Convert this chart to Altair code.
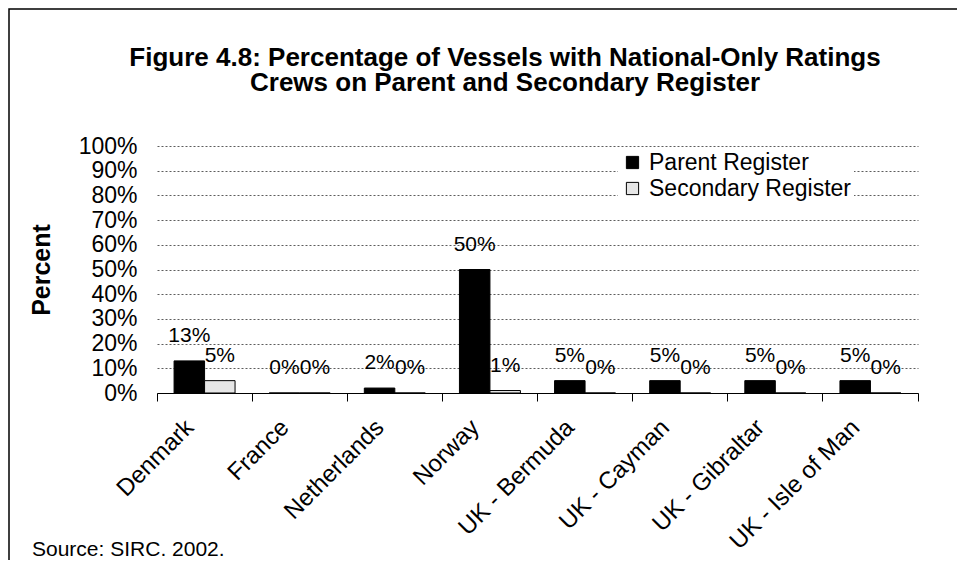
import altair as alt
import pandas as pd

categories = ["Denmark", "France", "Netherlands", "Norway", "UK - Bermuda",
              "UK - Cayman", "UK - Gibraltar", "UK - Isle of Man"]
registers = ["Parent Register", "Secondary Register"]
parent_pct = [13, 0, 2, 50, 5, 5, 5, 5]
secondary_pct = [5, 0, 0, 1, 0, 0, 0, 0]
title_lines = ["Figure 4.8: Percentage of Vessels with National-Only Ratings",
               "Crews on Parent and Secondary Register"]
y_title = "Percent"
y_ticks = [0, 0.1, 0.2, 0.3, 0.4, 0.5, 0.6, 0.7, 0.8, 0.9, 1.0]
source_note = "Source: SIRC. 2002."

rows = []
for c, p, s in zip(categories, parent_pct, secondary_pct):
    rows.append({"Country": c, "Register": registers[0], "value": p / 100, "label": f"{p}%"})
    rows.append({"Country": c, "Register": registers[1], "value": s / 100, "label": f"{s}%"})
df = pd.DataFrame(rows)

FONT = "Liberation Sans"
W, H = 761, 247

x_enc = alt.X(
    "Country:N", sort=categories, title=None,
    scale=alt.Scale(paddingInner=0, paddingOuter=0),
    axis=alt.Axis(labelAngle=-45, labelFontSize=24, labelFont=FONT, labelColor="black",
                  bandPosition=1, tickExtra=True, tickSize=8, tickColor="black",
                  domainColor="black", domainWidth=1, labelPadding=14, labelOffset=-23,
                  labelOverlap=False, labelLimit=400, grid=False),
)
xo_enc = alt.XOffset("Register:N", sort=registers,
                     scale=alt.Scale(paddingInner=0, paddingOuter=0.56))
y_enc = alt.Y(
    "value:Q", scale=alt.Scale(domain=[0, 1]),
    axis=alt.Axis(values=y_ticks, format=".0%", grid=True, gridDash=[2, 2], gridColor="#333",
                  gridWidth=0.8, domain=False, ticks=False, labelFontSize=23, labelFont=FONT,
                  labelColor="black", labelPadding=20, labelOverlap=False,
                  labelSeparation=0, labelBound=False, title=y_title,
                  titleFontSize=25, titleFont=FONT, titleFontWeight="bold",
                  titleColor="black", titlePadding=24),
)

bars = alt.Chart(df).mark_bar(stroke="black", strokeWidth=1).encode(
    x=x_enc, xOffset=xo_enc, y=y_enc,
    color=alt.Color("Register:N", sort=registers,
                    scale=alt.Scale(domain=registers, range=["#000000", "#e6e6e6"]),
                    legend=alt.Legend(title=None, orient="none", legendX=461, legendY=2,
                                      fillColor="white", labelFontSize=23, labelFont=FONT,
                                      labelColor="black", labelLimit=400, symbolType="square",
                                      symbolSize=150, symbolStrokeColor="black",
                                      symbolStrokeWidth=1, padding=3, rowPadding=2,
                                      labelOffset=5)),
)

labels = alt.Chart(df).mark_text(fontSize=21, font=FONT, baseline="alphabetic", dy=-19,
                                  color="black").encode(
    x=x_enc, xOffset=xo_enc, y=y_enc, text="label:N"
)

frame = alt.Chart(pd.DataFrame({"f": [0]})).mark_rect(
    fillOpacity=0, stroke="black", strokeWidth=1.5
).encode(x=alt.value(-148), x2=alt.value(W + 200), y=alt.value(-137), y2=alt.value(H + 300))

title = alt.Chart(pd.DataFrame({"t": ["\n".join(title_lines)]})).mark_text(
    align="center", baseline="alphabetic", lineBreak="\n", lineHeight=25, fontSize=26,
    font=FONT, fontWeight="bold", color="black"
).encode(text="t:N", x=alt.value(348), y=alt.value(-80))

source = alt.Chart(pd.DataFrame({"t": [source_note]})).mark_text(
    align="left", baseline="alphabetic", fontSize=21, font=FONT, color="black"
).encode(text="t:N", x=alt.value(-125), y=alt.value(410))

chart = alt.layer(frame, bars, labels, title, source).properties(
    width=W, height=H,
    padding={"left": 149, "top": 138, "right": 39, "bottom": 167},
    autosize=alt.AutoSizeParams(type="none"),
).configure_view(stroke=None).configure_axis(labelOverlap=False)

chart.save("out.html", embed_options={"renderer": "svg", "actions": False})
